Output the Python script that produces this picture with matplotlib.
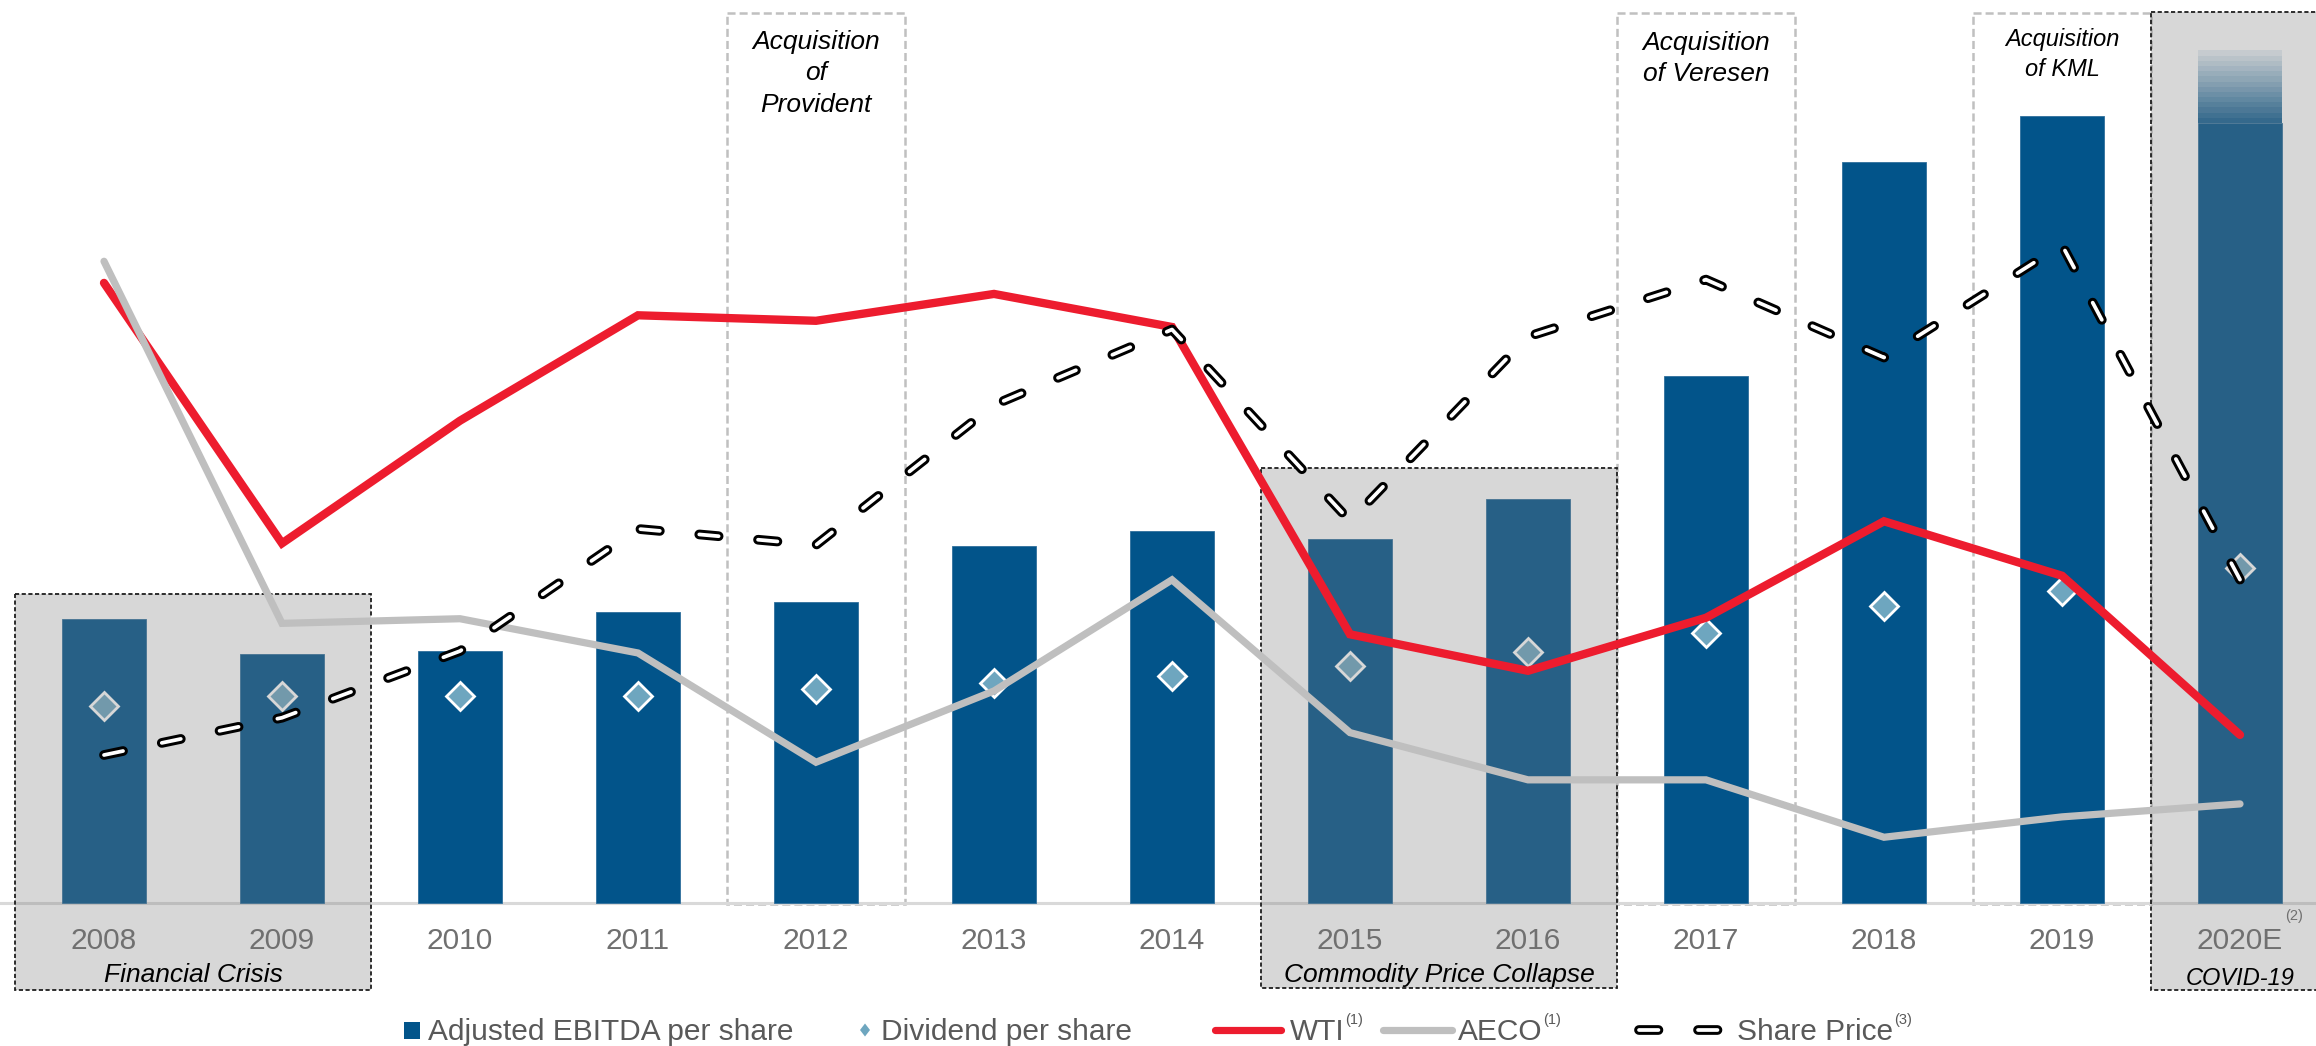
import matplotlib
matplotlib.use('Agg')
import matplotlib.pyplot as plt
from matplotlib.patches import Rectangle, Polygon
from matplotlib.lines import Line2D
import matplotlib.transforms as mtransforms
import numpy as np

plt.rcParams['font.family'] = ['Liberation Sans', 'DejaVu Sans']
plt.rcParams['lines.scale_dashes'] = False

# ---------------- data ----------------
years = ['2008', '2009', '2010', '2011', '2012', '2013', '2014',
         '2015', '2016', '2017', '2018', '2019', '2020E']
ebitda_per_share = [2.27, 1.99, 2.02, 2.33, 2.41, 2.86, 2.98, 2.91, 3.23, 4.22, 5.93, 6.30, 6.24]
ebitda_2020_high = 6.82          # top of guidance range (faded part of 2020E bar)
dividend_per_share = [1.58, 1.66, 1.66, 1.66, 1.71, 1.76, 1.82, 1.90, 2.01, 2.16, 2.38, 2.50, 2.68]
wti = [99.6, 61.8, 79.6, 94.9, 94.1, 98.0, 93.2, 48.6, 43.3, 51.0, 65.0, 57.1, 34.0]
aeco = [7.71, 3.80, 3.85, 3.48, 2.30, 3.07, 4.27, 2.62, 2.11, 2.11, 1.49, 1.71, 1.85]
share_price = [14.98, 17.40, 21.73, 29.66, 28.62, 37.71, 42.61, 30.18, 42.15, 45.85, 40.79, 48.10, 26.37]

events = [(0, 1, 'Financial Crisis'), (7, 8, 'Commodity Price Collapse'), (12, 12, 'COVID-19')]
acquisitions = [(4, ['Acquisition', 'of', 'Provident']),
                (9, ['Acquisition', 'of Veresen']),
                (11, ['Acquisition', 'of KML'])]
legend_labels = ['Adjusted EBITDA per share', 'Dividend per share', 'WTI', 'AECO', 'Share Price']
legend_notes = ['', '', '(1)', '(1)', '(3)']
year_note = '(2)'

# ---------------- style ----------------
W, H = 2316, 1046
bar_color = '#02548A'
div_color = '#6EA6BF'
red = '#ED1C2E'
aeco_color = '#BFBFBF'
tick_color = '#707070'
legend_color = '#595959'

fig = plt.figure(figsize=(W / 100, H / 100), dpi=100)
fig.patch.set_facecolor('white')
ax = fig.add_axes([0, 0, 1, 1])
x = np.arange(len(years))
ax.set_xlim(-104 / 178, (W - 104) / 178)
ax.set_ylim(-143 / 125, 903 / 125)
ax.axis('off')

# pixel (from top-left) transform and blended (x data / y pixel) transform
px = mtransforms.Affine2D().scale(1 / W, -1 / H).translate(0, 1) + fig.transFigure
xpx = mtransforms.blended_transform_factory(ax.transData, px)

bar_w = 0.475

# baseline
ax.axhline(0, color='#D9D9D9', lw=2.2, zorder=1.5)

# acquisition boxes
acq_sizes = [19, 19, 17]
acq_first = [49.5, 50, 46]
acq_step = [31, 31, 29.5]
for k, (i, lines) in enumerate(acquisitions):
    ax.add_patch(Rectangle((i - 0.5, 13), 1.0, 904 - 13, transform=xpx,
                           facecolor='none', edgecolor='#C0C0C0', lw=1.8,
                           linestyle=(0, (5.8, 2.9)), zorder=1))
    for j, ln in enumerate(lines):
        ax.text(i, acq_first[k] + j * acq_step[k], ln, transform=xpx, ha='center',
                va='baseline', fontsize=acq_sizes[k], style='italic', color='black', zorder=10)

# bars
ax.bar(x, ebitda_per_share, width=bar_w, color=bar_color, edgecolor='#2F6F9C',
       lw=0.6, zorder=2)
n_steps = 14
edges = np.linspace(ebitda_per_share[-1], ebitda_2020_high, n_steps + 1)
for k in range(n_steps):
    a = 0.92 - 0.82 * k / (n_steps - 1)
    ax.bar(x[-1], edges[k + 1] - edges[k], bottom=edges[k], width=bar_w,
           color=bar_color, alpha=a, lw=0, zorder=2)

# dividends
ax.plot(x, dividend_per_share, linestyle='none', marker='D', ms=14.5,
        mfc=div_color, mec='white', mew=2.0, zorder=3)

# event overlay boxes
ev_top = [594, 468, 12]
ev_bot = [990, 988, 990]
ev_text_base = [982, 982, 985]
ev_size = [19, 19, 17]
for k, (s, e, lab) in enumerate(events):
    ax.add_patch(Rectangle((s - 0.5, ev_top[k]), e - s + 1, ev_bot[k] - ev_top[k],
                           transform=xpx, facecolor=(0.49, 0.49, 0.49, 0.30),
                           edgecolor='#1E1E1E', lw=1.3, linestyle=(0, (3.0, 1.8)),
                           zorder=4))
    ax.text((s + e) / 2, ev_text_base[k], lab, transform=xpx, ha='center', va='baseline',
            fontsize=ev_size[k], style='italic', color='black', zorder=10)

# year labels
for i, yl in enumerate(years):
    ax.text(i, 949, yl, transform=xpx, ha='center', va='baseline',
            fontsize=21.5, color=tick_color, zorder=10)
ax.text(2285, 920, year_note, transform=px, ha='left', va='baseline',
        fontsize=10.5, color=tick_color, zorder=10)

# lines on their own scales
ax_wti = ax.twinx()
ax_wti.set_ylim(9.6 - 143 / 6.89, 9.6 + 903 / 6.89)
ax_wti.axis('off')
ax_wti.plot(x, wti, color=red, lw=6.0, solid_capstyle='round', solid_joinstyle='miter')

ax_aeco = ax.twinx()
ax_aeco.set_ylim(0.78 - 143 / 92.6, 0.78 + 903 / 92.6)
ax_aeco.axis('off')
ax_aeco.plot(x, aeco, color=aeco_color, lw=5.2, solid_capstyle='round', solid_joinstyle='miter')

ax_sp = ax.twinx()
ax_sp.set_ylim(5.37 - 143 / 15.4, 5.37 + 903 / 15.4)
ax_sp.axis('off')
sp_dash = (0, (14, 28.5))
ax_sp.plot(x, share_price, color='black', lw=7.0, linestyle=sp_dash,
           dash_capstyle='round', dash_joinstyle='round', zorder=2)
ax_sp.plot(x, share_price, color='white', lw=2.7, linestyle=sp_dash,
           dash_capstyle='round', dash_joinstyle='round', zorder=3)

# ---------------- legend (manual) ----------------
ly = 1030
fig.add_artist(Rectangle((404, 1022), 16, 17, transform=px, facecolor=bar_color, lw=0))
fig.add_artist(Polygon([[865, 1023.5], [870, 1030], [865, 1036.5], [860, 1030]], closed=True,
                       transform=px, facecolor=div_color, lw=0))
fig.add_artist(Line2D([1214.5, 1280.5], [ly, ly], transform=px, color=red, lw=5.2,
                      solid_capstyle='round'))
fig.add_artist(Line2D([1382.5, 1451.5], [ly, ly], transform=px, color=aeco_color, lw=5.2,
                      solid_capstyle='round'))
fig.add_artist(Line2D([1638.5, 1722], [ly, ly], transform=px, color='black', lw=7.0,
                      linestyle=sp_dash, dash_capstyle='round'))
fig.add_artist(Line2D([1638.5, 1722], [ly, ly], transform=px, color='white', lw=2.7,
                      linestyle=sp_dash, dash_capstyle='round'))

text_x = [428, 881, 1290, 1458, 1737]
renderer = fig.canvas.get_renderer()
for tx, lab, note in zip(text_x, legend_labels, legend_notes):
    t = fig.text(tx, 1040, lab, transform=px, ha='left', va='baseline',
                 fontsize=21.5, color=legend_color)
    if note:
        bb = t.get_window_extent(renderer)
        fig.text(bb.x1 + 1, 1024, note, transform=px, ha='left', va='baseline',
                 fontsize=10.5, color=legend_color)

fig.savefig('out.png', dpi=100, facecolor='white')
